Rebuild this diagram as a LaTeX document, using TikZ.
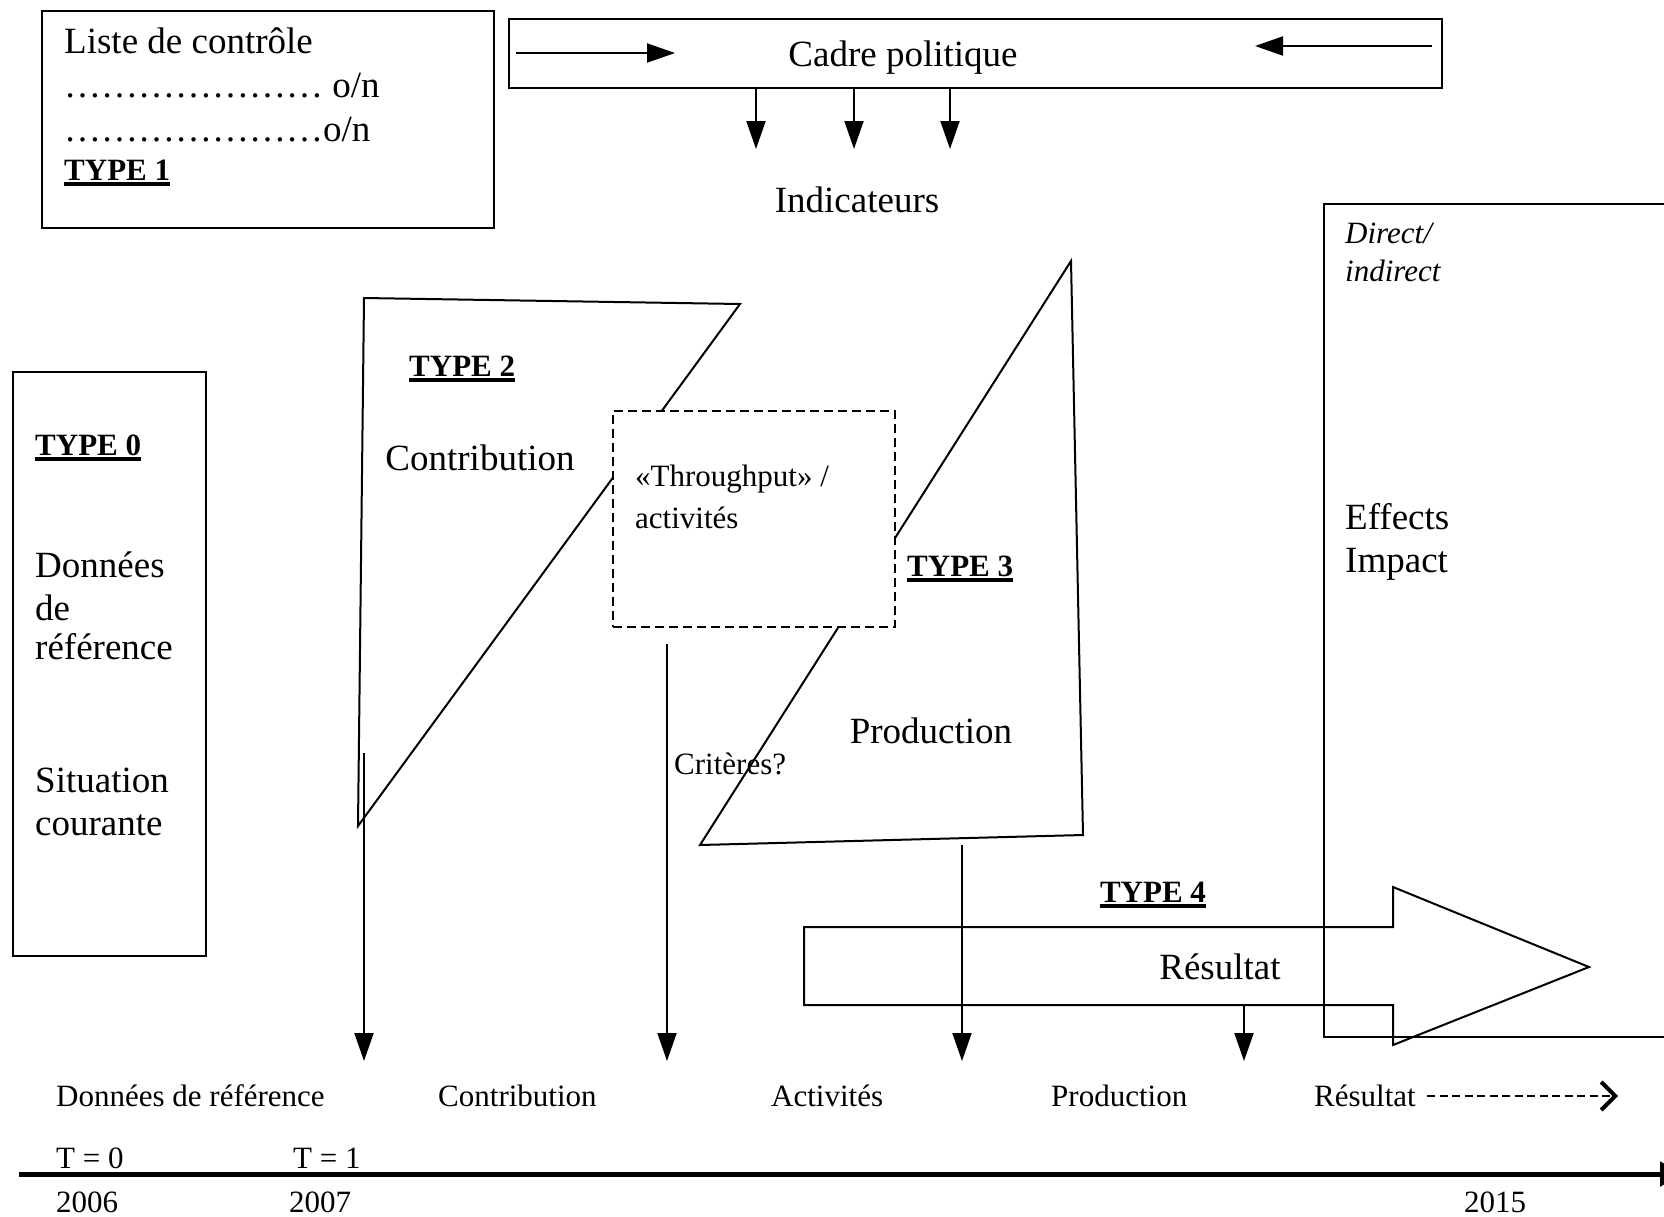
\documentclass[tikz,border=0pt]{standalone}
\usepackage{fontspec}
\setmainfont{Liberation Serif}
\usetikzlibrary{arrows.meta,positioning}
\newcommand{\typelab}[1]{\vtop{\hbox{\bfseries TYPE #1}\kern2pt\hrule height 3.5pt}}
\newcommand{\dotrow}{…………………}
\tikzset{>={Triangle[length=28pt,width=19pt]}}
\tikzset{bigtxt/.style={font=\fontsize{37}{43}\selectfont,inner sep=0pt,anchor=base west}}
\tikzset{smalltxt/.style={font=\fontsize{31}{37}\selectfont,inner sep=0pt,anchor=base west}}
\tikzset{box/.style={draw,line width=2pt,inner sep=0pt}}
\tikzset{flow/.style={->,line width=2pt}}

\begin{document}
\begin{tikzpicture}[x=1pt,y=-1pt]
    \clip (0,0) rectangle (1664,1216);

    % checklist, type 1
    \node[box,minimum width=452,minimum height=217] (check) at (268,119.5) {};
    \node[bigtxt] (liste) at (64,53) {Liste de contrôle};
    \node[bigtxt] (ona) at (64,97) {\dotrow\ o/n};
    \node[bigtxt] (onb) at (64,141) {\dotrow o/n};
    \node[smalltxt] (typeone) at (64,180) {\typelab{1}};

    % policy frame
    \node[box,minimum width=933,minimum height=69] (cadre) at (975.5,53.5) {};
    \node[bigtxt,anchor=base] (cadretxt) at (903,66) {Cadre politique};
    \coordinate (la) at (516,53);
    \coordinate (lb) at (675,53);
    \coordinate (ra) at (1432,46);
    \coordinate (rb) at (1255,46);
    \draw[flow] (la) -- (lb);
    \draw[flow] (ra) -- (rb);
    \coordinate (ia) at (756,149);
    \coordinate (ib) at (854,149);
    \coordinate (ic) at (950,149);
    \foreach \i in {ia,ib,ic}
        \draw[flow] (cadre.south -| \i) -- (\i);
    \node[bigtxt,anchor=base] (indic) at (857,212) {Indicateurs};

    % type 0
    \node[box,minimum width=193,minimum height=584] (base) at (109.5,664) {};
    \node[smalltxt] (typezero) at (35,455) {\typelab{0}};
    \node[bigtxt] (donA) at (35,577) {Données};
    \node[bigtxt] (donB) at (35,620) {de};
    \node[bigtxt] (donC) at (35,659) {référence};
    \node[bigtxt] (sitA) at (35,792) {Situation};
    \node[bigtxt] (sitB) at (35,835) {courante};

    % type 2 and type 3 shapes
    \draw[line width=2pt] (364,298) -- (740,304) -- (358,826) -- cycle;
    \draw[line width=2pt] (1071,261) -- (1083,835) -- (700,845) -- cycle;
    \node[box,dashed,dash pattern=on 9pt off 5pt,fill=white,minimum width=282,minimum height=216] (through) at (754,519) {};
    \node[smalltxt] (typetwo) at (409,376) {\typelab{2}};
    \node[bigtxt,anchor=base] (contrib) at (480,470) {Contribution};
    \node[smalltxt] (thrA) at (635,486) {«Throughput» /};
    \node[smalltxt] (thrB) at (635,528) {activités};
    \node[smalltxt] (typethree) at (907,576) {\typelab{3}};
    \node[bigtxt,anchor=base] (prod) at (931,743) {Production};
    \node[smalltxt] (crit) at (674,774) {Critères?};

    % effects / impact
    \node[box,minimum width=376,minimum height=833] (effects) at (1512,620.5) {};
    \node[smalltxt,font=\fontsize{31}{37}\selectfont\itshape] (dirA) at (1345,243) {Direct/};
    \node[smalltxt,font=\fontsize{31}{37}\selectfont\itshape] (dirB) at (1345,281) {indirect};
    \node[bigtxt] (effA) at (1345,529) {Effects};
    \node[bigtxt] (effB) at (1345,572) {Impact};

    % type 4 arrow
    \draw[line width=2pt] (804,927) -- (1393,927) -- (1393,887) -- (1589,967)
        -- (1393,1045) -- (1393,1005) -- (804,1005) -- cycle;
    \node[smalltxt,anchor=base] (typefour) at (1153,902) {\typelab{4}};
    \node[bigtxt,anchor=base] (result) at (1220,979) {Résultat};

    % arrows down to the time line
    \coordinate (tips) at (0,1061);
    \coordinate (dA) at (364,753);
    \coordinate (dB) at (667,644);
    \coordinate (dC) at (962,845);
    \coordinate (dD) at (1244,1005);
    \foreach \d in {dA,dB,dC,dD}
        \draw[flow] (\d) -- (\d |- tips);

    \node[smalltxt] (stepA) at (56,1106) {Données de référence};
    \node[smalltxt] (stepB) at (438,1106) {Contribution};
    \node[smalltxt] (stepC) at (771,1106) {Activités};
    \node[smalltxt] (stepD) at (1051,1106) {Production};
    \node[smalltxt] (stepE) at (1314,1106) {Résultat};
    \coordinate (resA) at (1427,1096);
    \coordinate (resB) at (1618,1096);
    \draw[line width=2.6pt,dash pattern=on 8pt off 4.5pt,-{Straight Barb[length=14pt,width=28pt,line width=4pt]}] (resA) -- (resB);

    % time line
    \coordinate (tlA) at (19,1174);
    \coordinate (tlB) at (1682,1174);
    \draw[line width=5pt,-{Triangle[length=22pt,width=24pt]}] (tlA) -- (tlB);
    \node[smalltxt] (tzero) at (56,1168) {T = 0};
    \node[smalltxt] (tone) at (293,1168) {T = 1};
    \node[smalltxt] (ysix) at (56,1212) {2006};
    \node[smalltxt] (yseven) at (289,1212) {2007};
    \node[smalltxt] (yfifteen) at (1464,1212) {2015};
\end{tikzpicture}
\end{document}
